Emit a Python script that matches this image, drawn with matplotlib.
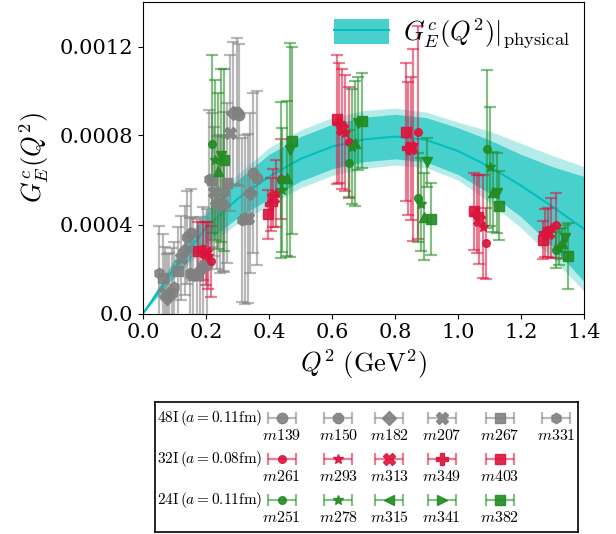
import numpy as np
import matplotlib
matplotlib.use("Agg")
import matplotlib.pyplot as plt
from matplotlib.patches import Patch
from matplotlib.lines import Line2D
from matplotlib.colors import to_rgba

plt.rcParams["font.family"] = "DejaVu Serif"
plt.rcParams["mathtext.fontset"] = "cm"

# physical-point band
band_q2 = [0.0, 0.1, 0.2, 0.3, 0.4, 0.5, 0.6, 0.7, 0.8, 0.9, 1.0, 1.1, 1.2, 1.3, 1.4]
band_mid = [0.0, 0.000205, 0.000385, 0.000515, 0.000615, 0.000695, 0.00075, 0.000782,
            0.000795, 0.00078, 0.00073, 0.00066, 0.000575, 0.00048, 0.00038]
band_in = [0.0, 0.000035, 0.000065, 0.000085, 0.0001, 0.0001, 0.0001, 0.0001,
           0.0001, 0.0001, 0.000105, 0.00012, 0.00014, 0.00018, 0.000236]
band_out = [0.0, 0.000045, 0.000085, 0.00011, 0.00013, 0.00013, 0.00013, 0.00013,
            0.000128, 0.000125, 0.00013, 0.00016, 0.00019, 0.00023, 0.00028]

# 48I ensemble
names_48I = ["m139", "m150", "m182", "m207", "m267", "m331"]
q2_48I = [[0.091, 0.151, 0.202, 0.255, 0.306, 0.361],
          [0.083, 0.141, 0.192, 0.244, 0.297, 0.350],
          [0.077, 0.133, 0.181, 0.236, 0.287, 0.340],
          [0.070, 0.120, 0.170, 0.225, 0.276, 0.334],
          [0.062, 0.112, 0.159, 0.218, 0.268, 0.324],
          [0.052, 0.099, 0.148, 0.211, 0.258, 0.313]]
g_48I = [[0.000093, 0.00036, 0.000218, 0.000492, 0.000892, 0.000608],
         [0.000083, 0.000342, 0.000218, 0.000492, 0.000907, 0.00063],
         [0.000068, 0.000285, 0.000195, 0.000498, 0.0009, 0.000543],
         [0.00009, 0.00025, 0.000173, 0.000547, 0.00081, 0.000428],
         [0.000158, 0.00019, 0.000173, 0.0006, 0.000585, 0.000423],
         [0.000183, 0.00012, 0.00018, 0.000603, 0.000547, 0.00042]]
e_48I = [[0.0002, 0.0002, 0.00025, 0.0003, 0.00032, 0.00039],
         [0.00019, 0.00021, 0.00026, 0.00031, 0.00033, 0.00036],
         [0.0002, 0.0002, 0.00024, 0.0003, 0.00032, 0.00036],
         [0.00021, 0.00019, 0.00025, 0.00029, 0.00035, 0.00038],
         [0.0002, 0.0002, 0.00026, 0.0003, 0.00036, 0.00038],
         [0.00021, 0.0002, 0.00025, 0.00031, 0.00036, 0.00037]]

# 32I ensemble
names_32I = ["m261", "m293", "m313", "m349", "m403"]
q2_32I = [[0.215, 0.437, 0.655, 0.872, 1.090, 1.310],
          [0.205, 0.421, 0.641, 0.858, 1.080, 1.295],
          [0.200, 0.413, 0.633, 0.850, 1.068, 1.285],
          [0.190, 0.405, 0.622, 0.842, 1.059, 1.276],
          [0.176, 0.397, 0.615, 0.835, 1.051, 1.269]]
g_32I = [[0.000235, 0.000605, 0.00077, 0.000814, 0.000316, 0.000396],
         [0.00026, 0.00054, 0.00081, 0.000757, 0.00039, 0.000383],
         [0.00027, 0.00052, 0.000828, 0.000742, 0.000422, 0.000364],
         [0.00028, 0.00049, 0.000855, 0.000742, 0.000446, 0.000362],
         [0.00028, 0.000447, 0.000874, 0.000817, 0.000459, 0.00033]]
e_32I = [[0.00016, 0.00018, 0.00025, 0.00048, 0.00016, 0.000147],
         [0.00015, 0.00015, 0.00026, 0.00043, 0.000232, 0.000135],
         [0.00014, 0.00013, 0.00027, 0.00032, 0.0002, 0.000108],
         [0.00013, 0.00012, 0.00027, 0.0003, 0.000176, 0.000107],
         [0.00013, 0.00011, 0.00029, 0.00031, 0.000174, 0.000084]]

# 24I ensemble
names_24I = ["m251", "m278", "m315", "m341", "m382"]
q2_24I = [[0.218, 0.438, 0.655, 0.873, 1.091, 1.312],
          [0.229, 0.442, 0.662, 0.883, 1.102, 1.320],
          [0.237, 0.456, 0.673, 0.892, 1.112, 1.329],
          [0.247, 0.467, 0.684, 0.903, 1.123, 1.340],
          [0.257, 0.474, 0.694, 0.914, 1.131, 1.350]]
g_24I = [[0.00076, 0.0006, 0.000675, 0.00052, 0.000738, 0.000285],
         [0.00069, 0.000555, 0.00075, 0.00049, 0.00066, 0.0003],
         [0.00064, 0.000607, 0.000765, 0.000435, 0.000545, 0.000315],
         [0.00071, 0.000735, 0.000855, 0.00068, 0.00054, 0.000338],
         [0.00069, 0.000777, 0.000867, 0.000425, 0.000485, 0.000258]]
e_24I = [[0.0004, 0.00035, 0.00015, 0.0002, 0.000355, 0.00008],
         [0.00036, 0.00028, 0.00026, 0.00021, 0.000267, 0.00008],
         [0.00035, 0.00035, 0.00028, 0.000195, 0.00018, 0.00007],
         [0.00039, 0.00048, 0.00021, 0.00011, 0.00018, 0.00006],
         [0.00041, 0.00042, 0.000215, 0.00016, 0.000156, 0.00015]]

ensembles = [
    (r"$\mathrm{48I}\,(a=0.11\mathrm{fm})$", "gray", names_48I, q2_48I, g_48I, e_48I,
     ["o", "8", "D", "X", "s", "h"], ["o", "8", "D", "X", "s", "h"], [7.5, 8.5, 7, 8, 6.5, 7.5]),
    (r"$\mathrm{32I}\,(a=0.08\mathrm{fm})$", "crimson", names_32I, q2_32I, g_32I, e_32I,
     ["o", "*", "X", "P", "s"], ["o", "*", "X", "P", "s"], [5.5, 7.5, 8, 8, 6.5]),
    (r"$\mathrm{24I}\,(a=0.11\mathrm{fm})$", "forestgreen", names_24I, q2_24I, g_24I, e_24I,
     ["o", "*", "^", "v", "s"], ["o", "*", "<", ">", "s"], [5.5, 7.5, 7.5, 7.5, 6.5]),
]

band_col = "mediumturquoise"

fig = plt.figure(figsize=(6.16, 5.34), dpi=100)
ax = fig.add_axes([143 / 616, (534 - 313.5) / 534, 441 / 616, 311.5 / 534])

bq = np.array(band_q2)
bm = np.array(band_mid)
ax.fill_between(bq, bm - np.array(band_out), bm + np.array(band_out), color=band_col,
                alpha=0.4, lw=0, zorder=1)
ax.fill_between(bq, bm - np.array(band_in), bm + np.array(band_in), color=band_col,
                alpha=1.0, lw=0, zorder=1)
ax.plot(bq, bm, color="c", lw=1.5, zorder=2)

for label, col, names, q2s, gs, es, mk, mk_leg, ms in ensembles:
    for i in range(len(names)):
        ax.errorbar(q2s[i], gs[i], yerr=es[i], fmt=mk[i], ms=ms[i],
                    color=to_rgba(col, 0.9), ecolor=to_rgba(col, 0.55),
                    elinewidth=1.6, capsize=4, capthick=1.6, zorder=3)

ax.set_xlim(0, 1.4)
ax.set_ylim(0, 0.0014)
ax.set_xticks([0.0, 0.2, 0.4, 0.6, 0.8, 1.0, 1.2, 1.4])
ax.set_yticks([0.0, 0.0004, 0.0008, 0.0012])
ax.set_yticklabels(["0.0", "0.0004", "0.0008", "0.0012"])
ax.tick_params(labelsize=15)
ax.set_xlabel(r"$Q^2\ (\mathrm{GeV}^2)$", fontsize=19, labelpad=4)
ax.set_ylabel(r"$G_E^c(Q^2)$", fontsize=19, labelpad=6)

h = (Patch(facecolor=band_col, edgecolor="none"), Line2D([], [], color="c", lw=1.5))
ax.legend([h], [r"$G_E^c(Q^2)|_{\mathrm{physical}}$"], loc="upper right", frameon=False,
          fontsize=19, handlelength=2.1, handleheight=1.1, borderaxespad=0.15,
          handletextpad=0.5)

# custom legend box below the axes
lg = fig.add_axes([155 / 616, 2 / 534, 423 / 616, 130 / 534])
lg.set_xlim(0, 423)
lg.set_ylim(0, 130)
lg.set_xticks([])
lg.set_yticks([])
for s in lg.spines.values():
    s.set_linewidth(1.2)
col_x = [126.7, 183.3, 234.3, 286.7, 345, 401]
for r, (label, col, names, q2s, gs, es, mk, mk_leg, ms) in enumerate(ensembles):
    yc = 114.3 - 41.3 * r
    lg.text(2, yc, label, fontsize=11, va="center", ha="left")
    for i in range(len(names)):
        lg.errorbar([col_x[i]], [yc], xerr=[14], fmt=mk_leg[i], ms=ms[i],
                    color=to_rgba(col, 0.9), ecolor=to_rgba(col, 0.55),
                    elinewidth=1.6, capsize=4, capthick=1.6)
        lg.text(col_x[i], yc - 17.5, "$" + names[i] + "$", fontsize=11.5,
                ha="center", va="center")

fig.savefig("out.png", dpi=100)
